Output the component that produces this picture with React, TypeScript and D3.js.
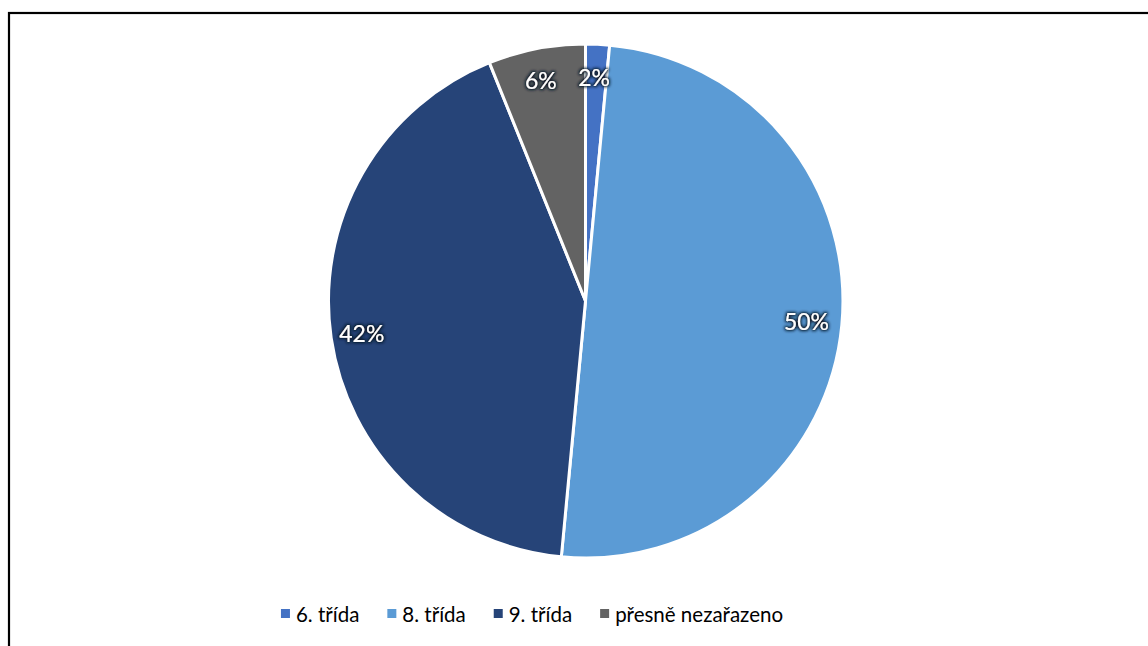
import React, { useEffect, useRef } from 'react';
import * as d3 from 'd3';

// kategorie a podíly (v procentech)
const categories = ['6. třída', '8. třída', '9. třída', 'přesně nezařazeno'];
const shares = [1.5, 50, 42.4, 6.1];
const colors = ['#4472C4', '#5B9BD5', '#264478', '#636363'];

const W = 1148;
const H = 646;

export default function App() {
  const ref = useRef<SVGSVGElement>(null);

  useEffect(() => {
    const svg = d3.select(ref.current);
    svg.selectAll('*').remove();

    const defs = svg.append('defs');
    const glow = defs.append('filter').attr('id', 'glow')
      .attr('x', '-30%').attr('y', '-30%').attr('width', '160%').attr('height', '160%');
    glow.append('feMorphology').attr('in', 'SourceAlpha').attr('operator', 'dilate').attr('radius', 1.3).attr('result', 'd');
    glow.append('feGaussianBlur').attr('in', 'd').attr('stdDeviation', 1.8).attr('result', 'b');
    glow.append('feFlood').attr('flood-color', '#0a1626').attr('flood-opacity', 1);
    glow.append('feComposite').attr('in2', 'b').attr('operator', 'in').attr('result', 's');
    const merge = glow.append('feMerge');
    merge.append('feMergeNode').attr('in', 's');
    merge.append('feMergeNode').attr('in', 'SourceGraphic');

    // rámeček grafu
    svg.append('rect')
      .attr('x', 9).attr('y', 13)
      .attr('width', W + 20).attr('height', H + 20)
      .attr('fill', '#fff')
      .attr('stroke', '#000')
      .attr('stroke-width', 2.2);

    const cx = 585.5;
    const cy = 301;
    const r = 257;

    const data = categories.map((name, i) => ({ name, value: shares[i], i }));
    const pie = d3.pie<any>().value((d: any) => d.value).sort(null);
    const arcs = pie(data);
    const arc = d3.arc<any>().innerRadius(0).outerRadius(r);
    const labelArc = d3.arc<any>().innerRadius(224).outerRadius(224);
    const total = d3.sum(shares);

    const g = svg.append('g').attr('transform', `translate(${cx},${cy})`);
    g.selectAll('path')
      .data(arcs)
      .enter()
      .append('path')
      .attr('d', (d: any) => arc(d))
      .attr('fill', (d: any) => colors[d.data.i])
      .attr('stroke', '#fff')
      .attr('stroke-width', 3)
      .attr('stroke-linejoin', 'round');

    g.selectAll('text')
      .data(arcs)
      .enter()
      .append('text')
      .attr('transform', (d: any) => {
        const [x, y] = labelArc.centroid(d);
        return `translate(${x - 2},${y})`;
      })
      .attr('text-anchor', 'middle')
      .attr('dy', '0.36em')
      .attr('font-family', 'Lato, "Noto Sans", sans-serif')
      .attr('font-size', 23)
      .attr('fill', '#fff')
      .attr('filter', 'url(#glow)')
      .text((d: any) => Math.round(d.data.value / total * 100) + '%');

    // legenda
    const legend = svg.append('g');
    const items = legend.selectAll('g')
      .data(data)
      .enter()
      .append('g');
    items.append('rect')
      .attr('width', 9).attr('height', 9)
      .attr('y', -13)
      .attr('fill', (d: any) => colors[d.i]);
    const texts = items.append('text')
      .attr('x', 15)
      .attr('font-family', 'Lato, "Noto Sans", sans-serif')
      .attr('font-size', 20.5)
      .attr('fill', '#000')
      .text((d: any) => d.name);
    const widths: number[] = [];
    texts.each(function () {
      widths.push((this as SVGTextElement).getComputedTextLength());
    });
    const gap = 28;
    let x = 0;
    const offsets = widths.map((w) => {
      const o = x;
      x += 15 + w + gap;
      return o;
    });
    const totalW = x - gap;
    const startX = 532 - totalW / 2;
    items.attr('transform', (d: any, i: number) => `translate(${startX + offsets[i]},622)`);
  }, []);

  return (
    <svg ref={ref} width={W} height={H}
      style={{ position: 'absolute', left: 0, top: 0, display: 'block' }} />
  );
}
